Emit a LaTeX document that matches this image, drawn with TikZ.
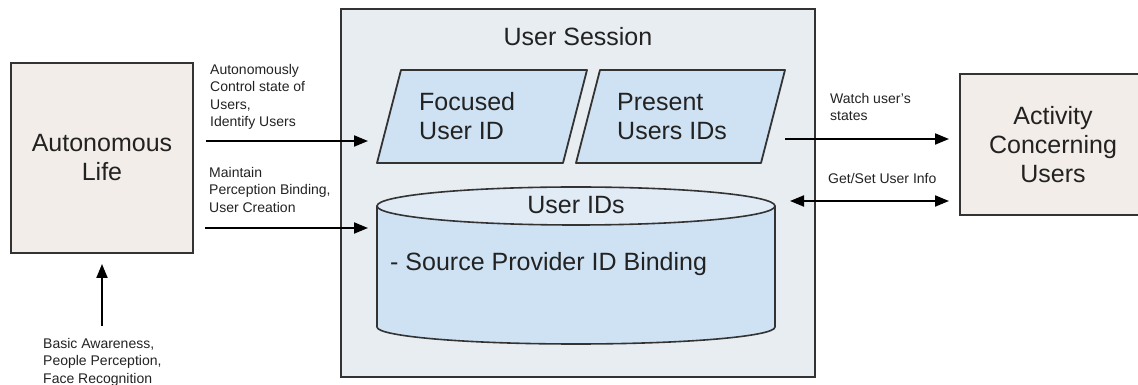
\documentclass[tikz,border=0pt]{standalone}
\usepackage{fontspec}
\setmainfont{Liberation Sans}
\usetikzlibrary{arrows.meta}
\definecolor{beige}{HTML}{F2EDE8}
\definecolor{sessionbg}{HTML}{E8EDF2}
\definecolor{idblue}{HTML}{CFE2F3}
\definecolor{idtop}{HTML}{E0EBF6}
\definecolor{edge}{HTML}{333333}
\definecolor{ink}{HTML}{222222}

\begin{document}
\begin{tikzpicture}[x=1pt,y=1pt,
  big/.style={font=\fontsize{25}{29}\selectfont, text=ink, inner sep=0pt, align=center},
  small/.style={font=\fontsize{14}{17.5}\selectfont, text=ink, inner sep=0pt, align=left},
  block/.style={draw=edge, line width=2pt, fill=beige, inner sep=0pt, big},
  slanted/.style={draw=edge, line width=1.8pt, fill=idblue, line join=round},
  arr/.style={draw=black, line width=2pt, -{Triangle[length=14pt,width=11pt]}},
  darr/.style={draw=black, line width=2pt,
    {Triangle[length=14pt,width=11pt]}-{Triangle[length=14pt,width=11pt]}},
]
\useasboundingbox (0,0) rectangle (1138,385);

% session container
\node[draw=edge, line width=2pt, fill=sessionbg, inner sep=0pt,
      minimum width=474pt, minimum height=368pt] (session) at (578,192) {};
\node[big] (sessiontitle) at (578,348) {User Session};

% outer blocks
\node[block, minimum width=182pt, minimum height=190pt] (life) at (102,227) {Autonomous\\Life};
\node[block, minimum width=186pt, minimum height=141pt] (activity) at (1053,240.5) {Activity\\Concerning\\Users};

% focused / present user ids
\draw[slanted] (377,222) -- (401,315) -- (587,315) -- (563,222) -- cycle;
\draw[slanted] (576,222) -- (600,315) -- (785,315) -- (761,222) -- cycle;
\node[big, align=left, anchor=west] (focused) at (419,268.5) {Focused\\User ID};
\node[big, align=left, anchor=west] (present) at (617,268.5) {Present\\Users IDs};

% user ids store
\fill[idblue] (377,179) -- (377,58)
  arc[start angle=180, end angle=360, x radius=199, y radius=17] -- (775,179) -- cycle;
\draw[edge, line width=1.6pt] (377,179) -- (377,58)
  arc[start angle=180, end angle=360, x radius=199, y radius=17] -- (775,179);
\draw[edge, line width=1.6pt, fill=idtop] (576,179) ellipse [x radius=199, y radius=19];
\node[inner sep=0pt, minimum width=398pt, minimum height=159pt] (userids) at (576,118.5) {};
\node[big] (idstitle) at (576,180) {User IDs};
\node[big, anchor=base west] (binding) at (390,114) {- Source Provider ID Binding};

% connector ends
\coordinate (in1) at (368,244);
\coordinate (in2) at (368,157);
\coordinate (out1) at (785,246);
\coordinate (out2) at (790,184);
\coordinate (feed) at (102,59);

% connectors
\draw[arr, shorten <=12pt] (life.east |- in1) -- (in1);
\draw[arr, shorten <=11pt] (life.east |- in2) -- (in2);
\draw[arr, shorten >=10pt] (out1) -- (activity.west |- out1);
\draw[darr, shorten >=10pt] (out2) -- (activity.west |- out2);
\draw[arr, shorten >=10pt] (feed) -- (life.south);

% connector labels
\node[small, anchor=north west] (lbl1) at (210,321) {Autonomously\\Control state of\\Users,\\Identify Users};
\node[small, anchor=north west] (lbl2) at (209,218) {Maintain\\Perception Binding,\\User Creation};
\node[small, anchor=north west] (lbl3) at (830,292) {Watch user's\\states};
\node[small, anchor=north west] (lbl4) at (828,212) {Get/Set User Info};
\node[small, anchor=north west] (lbl5) at (43,47) {Basic Awareness,\\People Perception,\\Face Recognition};
\end{tikzpicture}
\end{document}
